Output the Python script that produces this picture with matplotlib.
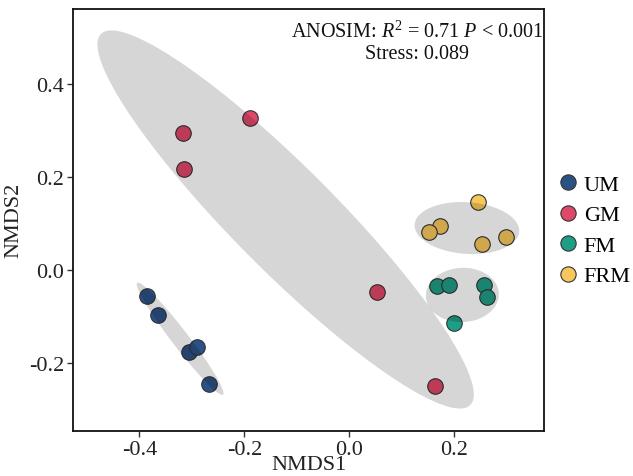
import numpy as np
import matplotlib
matplotlib.use("Agg")
import matplotlib.pyplot as plt
from matplotlib.lines import Line2D

plt.rcParams['font.family'] = ['Liberation Serif', 'DejaVu Serif']
plt.rcParams['mathtext.fontset'] = 'custom'
plt.rcParams['mathtext.rm'] = 'Liberation Serif'
plt.rcParams['mathtext.it'] = 'Liberation Serif:italic'

groups = ["UM", "GM", "FM", "FRM"]
colors = ["#2B5285", "#E0486A", "#1F9E87", "#F8C75C"]

um_x = [-0.386, -0.364, -0.306, -0.290, -0.267]
um_y = [-0.055, -0.097, -0.175, -0.165, -0.245]
gm_x = [-0.318, -0.189, -0.315, 0.052, 0.162]
gm_y = [0.294, 0.327, 0.218, -0.047, -0.248]
fm_x = [0.167, 0.189, 0.257, 0.262, 0.200]
fm_y = [-0.034, -0.031, -0.031, -0.057, -0.114]
frm_x = [0.244, 0.172, 0.151, 0.253, 0.298]
frm_y = [0.146, 0.095, 0.082, 0.057, 0.072]

xs = [um_x, gm_x, fm_x, frm_x]
ys = [um_y, gm_y, fm_y, frm_y]

ELLIPSE_SCALE = 1.64


def ellipse(x, y, k):
    x = np.asarray(x)
    y = np.asarray(y)
    cov = np.cov(x, y)
    vals, vecs = np.linalg.eigh(cov)
    t = np.linspace(0, 2 * np.pi, 200)
    circ = np.vstack([np.cos(t), np.sin(t)])
    pts = vecs @ (np.sqrt(vals)[:, None] * circ) * k
    return pts[0] + x.mean(), pts[1] + y.mean()


fig = plt.figure(figsize=(6.33, 4.77), dpi=100)
ax = fig.add_axes([0.1158, 0.095, 0.7432, 0.884])

for gx, gy, c in zip(xs, ys, colors):
    ax.scatter(gx, gy, s=125, color=c, edgecolor="#333333", linewidth=0.8, zorder=2)

# ellipses sit on top, slightly darkening the points inside
for gx, gy in zip(xs, ys):
    ex, ey = ellipse(gx, gy, ELLIPSE_SCALE)
    ax.fill(ex, ey, color="black", alpha=0.16, linewidth=0, zorder=3)

ax.set_xlim(-0.526, 0.370)
ax.set_ylim(-0.345, 0.561)
ax.set_xticks([-0.4, -0.2, 0.0, 0.2])
ax.set_xticklabels(["-0.4", "-0.2", "0.0", "0.2"])
ax.set_yticks([-0.2, 0.0, 0.2, 0.4])
ax.set_yticklabels(["-0.2", "0.0", "0.2", "0.4"])
ax.tick_params(labelsize=16, length=4, width=1, color="#333333", labelcolor="#222222", pad=2.5)
for sp in ax.spines.values():
    sp.set_linewidth(1.3)
    sp.set_color("#111111")

ax.set_xlabel("NMDS1", fontsize=16, labelpad=-2.5, color="#222222")
ax.set_ylabel("NMDS2", fontsize=16, labelpad=4, color="#222222")

ax.text(0.7316, 0.972, "ANOSIM: $R^{2}$ = 0.71 $P$ < 0.001\nStress: 0.089",
        transform=ax.transAxes, ha="center", va="top", fontsize=14.5,
        linespacing=1.15, color="#111111")

handles = [Line2D([], [], marker="o", linestyle="", markersize=11, markerfacecolor=c,
                  markeredgecolor="#333333", markeredgewidth=0.8) for c in colors]
fig.legend(handles, groups, loc="center left", bbox_to_anchor=(0.883, 0.515),
           frameon=False, fontsize=16, handletextpad=0.32, labelspacing=0.45,
           borderaxespad=0, borderpad=0, handlelength=0.8)

fig.savefig("out.png", dpi=100)
